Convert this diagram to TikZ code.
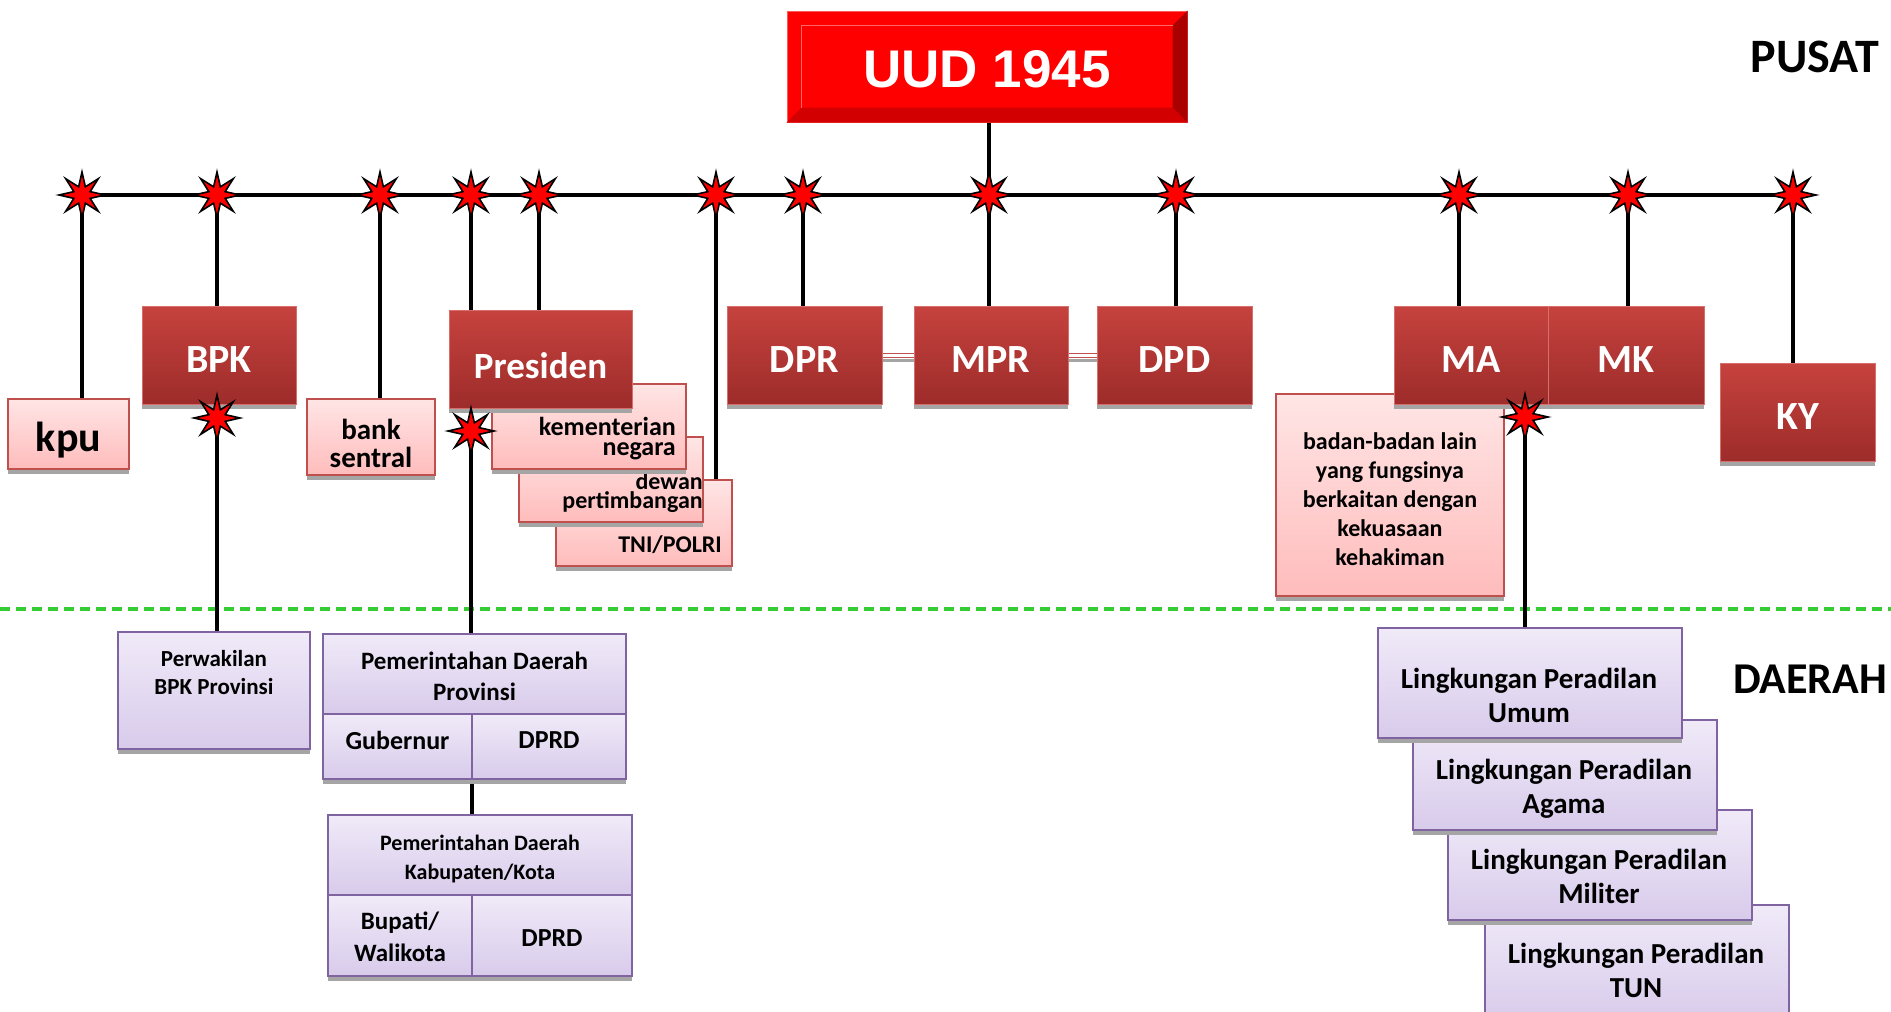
\documentclass[tikz,border=0pt]{standalone}
\usepackage{fontspec}
\setmainfont{Carlito}
\newfontfamily\arialfont{Liberation Sans}
\usetikzlibrary{shapes.geometric,calc}
\pgfdeclarelayer{bglayer}
\pgfdeclarelayer{fglayer}
\pgfsetlayers{bglayer,main,fglayer}
\definecolor{darktop}{RGB}{198,66,62}
\definecolor{darkbot}{RGB}{157,44,42}
\definecolor{darkedge}{RGB}{214,110,108}
\definecolor{pinktop}{RGB}{255,229,229}
\definecolor{pinkbot}{RGB}{255,188,188}
\definecolor{pinkedge}{RGB}{192,80,77}
\definecolor{purptop}{RGB}{240,234,248}
\definecolor{purpbot}{RGB}{216,203,235}
\definecolor{purpedge}{RGB}{128,100,162}
\definecolor{shadowgray}{RGB}{165,165,165}
\definecolor{dashgreen}{RGB}{51,204,51}
\definecolor{uudred}{RGB}{255,0,0}
\definecolor{uudedge}{RGB}{255,90,90}
\definecolor{uudbot}{RGB}{210,0,0}
\definecolor{uudright}{RGB}{170,0,0}
\newcommand\fsz[2]{\fontsize{#1}{#2}\selectfont}
\begin{document}
\begin{tikzpicture}[x=1pt,y=-1pt,
  boxbase/.style={rectangle, inner sep=0pt, outer sep=0pt,
    preaction={fill=shadowgray, transform canvas={yshift=-5pt}}},
  darkbox/.style={boxbase, draw=darkedge, line width=1pt, top color=darktop,
    bottom color=darkbot, text=white, font=\bfseries\fsz{40}{48},
    text height=35pt, text depth=0pt},
  pinkbox/.style={boxbase, draw=pinkedge, line width=1.5pt, top color=pinktop,
    bottom color=pinkbot, text=black},
  purpbox/.style={boxbase, draw=purpedge, line width=2pt, top color=purptop,
    bottom color=purpbot, text=black},
  lbl/.style={inner sep=0pt, text=black},
  conn/.style={line width=4pt, black},
  pairconn/.style={draw=pinkedge, double=white, double distance=3pt, line width=1pt},
  redstar/.style={shape=star, star points=8, star point ratio=2.6, minimum size=46pt,
    inner sep=0pt, fill=red, draw=black, line width=1.6pt}]
\useasboundingbox (0,0) rectangle (1891,1012);
\begin{pgfonlayer}{bglayer}
\fill[white] (0,0) rectangle (1891,1012);
\end{pgfonlayer}

% star positions
\coordinate (c1) at (82,195);
\coordinate (c2) at (217,195);
\coordinate (c3) at (380,195);
\coordinate (c4) at (471,195);
\coordinate (c5) at (539,195);
\coordinate (c6) at (716,195);
\coordinate (c7) at (803,195);
\coordinate (c8) at (989,195);
\coordinate (c9) at (1176,195);
\coordinate (c10) at (1459,195);
\coordinate (c11) at (1628,195);
\coordinate (c12) at (1793,195);
\coordinate (c13) at (217,418);
\coordinate (c14) at (471,431);
\coordinate (c15) at (1525,417);
\coordinate (dl) at (0,609);
\coordinate (dr) at (1891,609);

% UUD 1945
\node[rectangle, fill=uudred, draw=uudedge, line width=1pt, minimum width=400pt,
  minimum height=111pt, inner sep=0pt] (UUD) at (987,66.5) {};
\fill[uudbot] (UUD.south west) -- (UUD.south east) -- ([shift={(-15pt,15pt)}]UUD.south east)
  -- ([shift={(15pt,15pt)}]UUD.south west) -- cycle;
\fill[uudright] (UUD.south east) -- (UUD.north east) -- ([shift={(-15pt,-15pt)}]UUD.north east)
  -- ([shift={(-15pt,15pt)}]UUD.south east) -- cycle;
\draw[red!60!white, line width=0.8pt] ([shift={(15pt,15pt)}]UUD.south west)
  -- ([shift={(15pt,-15pt)}]UUD.north west) -- ([shift={(-15pt,-15pt)}]UUD.north east);
\node[font=\arialfont\bfseries\fsz{53}{60}, text=white, inner sep=0pt] (UUDt) at (987,69) {UUD 1945};

% PUSAT / DAERAH
\node[lbl, font=\bfseries\fsz{48}{52}] (pusat) at (1815,57) {PUSAT};
\node[lbl, font=\bfseries\fsz{44}{50}] (daerah) at (1810,679) {DAERAH};

% upper row
\node[pinkbox, minimum width=121pt, minimum height=70pt] (kpu) at (68.5,434) {};
\node[lbl, font=\bfseries\fsz{42}{48}] (kput) at (68.5,440) {kpu};
\node[darkbox, minimum width=154pt, minimum height=98pt] (BPK) at (219,355) {BPK};
\node[pinkbox, minimum width=128pt, minimum height=76pt] (bank) at (371,437) {};
\node[lbl, align=center, font=\bfseries\fsz{29}{28}] (bankt) at (371,443) {bank\\sentral};

\node[pinkbox, minimum width=176pt, minimum height=86pt] (TNI) at (644,523) {};
\node[lbl, anchor=east, font=\bfseries\fsz{24}{24}] (TNIt) at (722,545) {TNI/POLRI};
\node[pinkbox, minimum width=184pt, minimum height=85pt] (DP) at (611,479.5) {};
\node[lbl, anchor=east, align=right, font=\bfseries\fsz{24}{19}] (DPt) at (703,493) {dewan\\pertimbangan};
\node[pinkbox, minimum width=194pt, minimum height=85pt] (KN) at (589,426.5) {};
\node[lbl, anchor=east, align=right, font=\bfseries\fsz{26}{20}] (KNt) at (676,439) {kementerian\\negara};
\node[darkbox, minimum width=183pt, minimum height=98pt] (Pres) at (540.5,359) {};
\node[lbl, text=white, font=\bfseries\fsz{37}{44}] (Prest) at (540.5,366) {Presiden};

\node[darkbox, minimum width=155pt, minimum height=98pt] (DPR) at (804.5,355) {DPR};
\node[darkbox, minimum width=154pt, minimum height=98pt] (MPR) at (991,355) {MPR};
\node[darkbox, minimum width=155pt, minimum height=98pt] (DPD) at (1174.5,355) {DPD};

\node[pinkbox, minimum width=228pt, minimum height=202pt] (badan) at (1390,495) {};
\node[lbl, align=center, font=\bfseries\fsz{24}{29}] (badant) at (1390,499)
  {badan-badan lain\\yang fungsinya\\berkaitan dengan\\kekuasaan\\kehakiman};
\node[darkbox, minimum width=154pt, minimum height=98pt] (MA) at (1471,355) {MA};
\node[darkbox, minimum width=156pt, minimum height=98pt] (MK) at (1626,355) {MK};
\node[darkbox, minimum width=155pt, minimum height=98pt] (KY) at (1797.5,412) {KY};

% lower row
\node[purpbox, minimum width=192pt, minimum height=117pt] (Perw) at (214,690.5) {};
\node[lbl, align=center, font=\bfseries\fsz{23}{28}] (Perwt) at (214,673) {Perwakilan\\BPK Provinsi};

\node[purpbox, minimum width=303pt, minimum height=80pt] (ProvT) at (474.5,674) {};
\node[lbl, align=center, font=\bfseries\fsz{25}{31}] (ProvTt) at (474.5,676.5) {Pemerintahan Daerah\\Provinsi};
\node[purpbox, minimum width=149pt, minimum height=65pt] (ProvL) at (397.5,746.5) {};
\node[lbl, font=\bfseries\fsz{26}{30}] (ProvLt) at (397.5,740.5) {Gubernur};
\node[purpbox, minimum width=154pt, minimum height=65pt] (ProvR) at (549,746.5) {};
\node[lbl, font=\bfseries\fsz{26}{30}] (ProvRt) at (549,740.5) {DPRD};

\node[purpbox, minimum width=304pt, minimum height=80pt] (KabT) at (480,855) {};
\node[lbl, align=center, font=\bfseries\fsz{22}{29}] (KabTt) at (480,859) {Pemerintahan Daerah\\Kabupaten/Kota};
\node[purpbox, minimum width=144pt, minimum height=81pt] (KabL) at (400,935.5) {};
\node[lbl, align=center, font=\bfseries\fsz{25}{32}] (KabLt) at (400,937) {Bupati/\\Walikota};
\node[purpbox, minimum width=160pt, minimum height=81pt] (KabR) at (552,935.5) {};
\node[lbl, font=\bfseries\fsz{26}{30}] (KabRt) at (552,938) {DPRD};

\node[purpbox, minimum width=304pt, minimum height=117pt] (TUN) at (1637,963.5) {};
\node[lbl, align=center, font=\bfseries\fsz{29}{34}] (TUNt) at (1636,970) {Lingkungan Peradilan\\TUN};
\node[purpbox, minimum width=304pt, minimum height=110pt] (Mil) at (1600,865) {};
\node[lbl, align=center, font=\bfseries\fsz{29}{34}] (Milt) at (1599,876) {Lingkungan Peradilan\\Militer};
\node[purpbox, minimum width=304pt, minimum height=110pt] (Aga) at (1565,775) {};
\node[lbl, align=center, font=\bfseries\fsz{29}{34}] (Agat) at (1564,789) {Lingkungan Peradilan\\Agama};
\node[purpbox, minimum width=304pt, minimum height=110pt] (Umum) at (1530,683) {};
\node[lbl, align=center, font=\bfseries\fsz{29}{34}] (Umumt) at (1529,695) {Lingkungan Peradilan\\Umum};

% connectors
\begin{pgfonlayer}{bglayer}
\draw[dashgreen, line width=4pt, dash pattern=on 10pt off 6pt] (dl) -- (dr);
\draw[conn] (c1) -- (c12);
\draw[conn] (c8 |- UUD.south) -- (c8);
\draw[conn] (c1) -- (c1 |- kpu.north);
\draw[conn] (c2) -- (c2 |- BPK.north);
\draw[conn] (c13 |- BPK.south) -- (c13 |- Perw.north);
\draw[conn] (c3) -- (c3 |- bank.north);
\draw[conn] (c4) -- (c4 |- ProvT.north);
\draw[conn] (c5) -- (c5 |- Pres.north);
\draw[conn] (c6) -- (c6 |- TNI.north);
\draw[conn] (c7) -- (c7 |- DPR.north);
\draw[conn] (c8) -- (c8 |- MPR.north);
\draw[conn] (c9) -- (c9 |- DPD.north);
\draw[conn] (c10) -- (c10 |- MA.north);
\draw[conn] (c11) -- (c11 |- MK.north);
\draw[conn] (c12) -- (c12 |- KY.north);
\draw[conn] (c15 |- MA.south) -- (c15 |- Umum.north);
\draw[conn] (ProvL.south east) -- (KabL.north east);
\draw[shadowgray, line width=3pt] ([yshift=-5pt]DPR.east) -- ([yshift=-5pt]MPR.west);
\draw[shadowgray, line width=3pt] ([yshift=-5pt]MPR.east) -- ([yshift=-5pt]DPD.west);
\draw[pairconn] (DPR.east) -- (MPR.west);
\draw[pairconn] (MPR.east) -- (DPD.west);
\end{pgfonlayer}

% stars
\begin{pgfonlayer}{fglayer}
\foreach \i in {1,...,15} {\node[redstar] (s\i) at (c\i) {};}
\end{pgfonlayer}
\end{tikzpicture}
\end{document}
